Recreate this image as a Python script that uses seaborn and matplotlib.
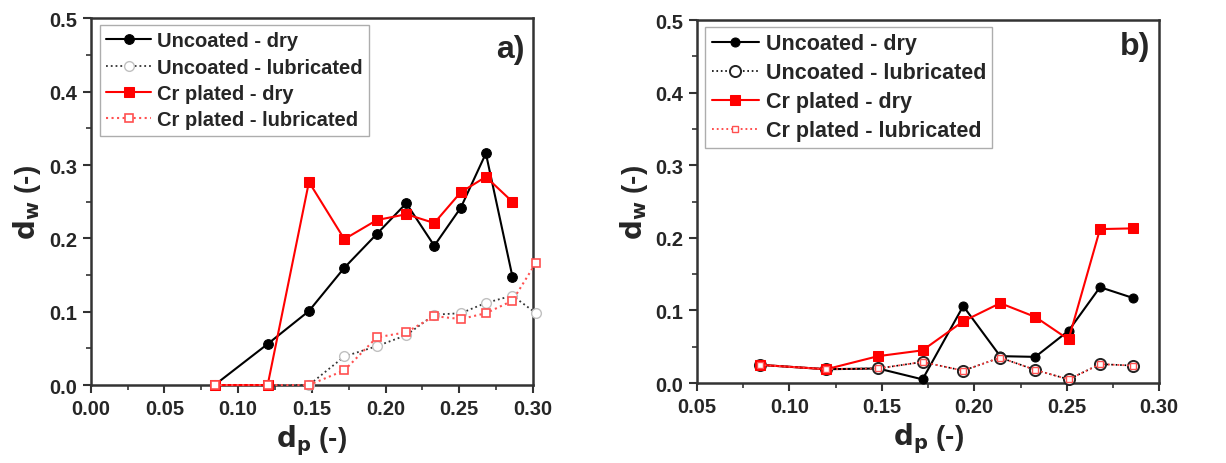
import numpy as np
import pandas as pd
import matplotlib
matplotlib.use("Agg")
import matplotlib.pyplot as plt
import seaborn as sns
from matplotlib.ticker import MultipleLocator

sns.set_theme(style="white")
plt.rcParams["font.family"] = ["Liberation Sans", "DejaVu Sans"]
plt.rcParams["font.weight"] = "bold"

# particle diameter positions (dimensionless)
dp = [0.084, 0.120, 0.148, 0.172, 0.194, 0.214, 0.233, 0.251, 0.268, 0.286, 0.302]

# panel a) wear depth
a_uncoated_dry = [0.0, 0.056, 0.101, 0.160, 0.206, 0.248, 0.190, 0.242, 0.316, 0.148]
a_uncoated_lub = [0.0, 0.0, 0.0, 0.039, 0.053, 0.068, 0.096, 0.098, 0.112, 0.122, 0.098]
a_cr_dry = [0.0, 0.0, 0.277, 0.199, 0.225, 0.233, 0.221, 0.263, 0.284, 0.250]
a_cr_lub = [0.0, 0.0, 0.0, 0.020, 0.065, 0.072, 0.094, 0.090, 0.098, 0.115, 0.167]

# panel b) wear depth
b_uncoated_dry = [0.025, 0.019, 0.020, 0.005, 0.106, 0.037, 0.036, 0.072, 0.132, 0.117]
b_uncoated_lub = [0.025, 0.019, 0.020, 0.029, 0.017, 0.035, 0.018, 0.005, 0.026, 0.024]
b_cr_dry = [0.025, 0.019, 0.037, 0.045, 0.085, 0.110, 0.091, 0.060, 0.212, 0.213]
b_cr_lub = [0.025, 0.019, 0.020, 0.029, 0.017, 0.035, 0.018, 0.005, 0.026, 0.024]

labels = ["Uncoated - dry", "Uncoated - lubricated", "Cr plated - dry", "Cr plated - lubricated"]

fig = plt.figure(figsize=(12.26, 4.64), dpi=100)
ax_a = fig.add_axes([0.074, 0.168, 0.3608, 0.790])
ax_b = fig.add_axes([0.5685, 0.1724, 0.377, 0.7823])


def series(ax, y, label, **kw):
    x = dp[:len(y)]
    sns.lineplot(x=x, y=y, ax=ax, label=label, sort=False, estimator=None,
                 clip_on=False, **kw)


# panel a
series(ax_a, a_uncoated_dry, labels[0], color="black", lw=1.5, marker="o", ms=7,
       mfc="black", mec="black")
series(ax_a, a_uncoated_lub, labels[1], color="#333333", lw=1.3, linestyle=":",
       marker="o", ms=7, mfc="white", mec="#c0c0c0", mew=1.0)
series(ax_a, a_cr_dry, labels[2], color="#ff0000", lw=1.5, marker="s", ms=6.5,
       mfc="#ff0000", mec="#ff0000")
series(ax_a, a_cr_lub, labels[3], color="#ff5050", lw=1.5, linestyle=":",
       marker="s", ms=6, mfc="white", mec="#ff5050", mew=1.2)

# panel b
series(ax_b, b_uncoated_dry, labels[0], color="black", lw=1.5, marker="o", ms=6.5,
       mfc="black", mec="black")
series(ax_b, b_uncoated_lub, labels[1], color="black", lw=1.2, linestyle=":",
       marker="o", ms=8, mfc="white", mec="#222222", mew=1.4)
series(ax_b, b_cr_dry, labels[2], color="#ff0000", lw=1.5, marker="s", ms=6.5,
       mfc="#ff0000", mec="#ff0000")
series(ax_b, b_cr_lub, labels[3], color="#ff4040", lw=1.3, linestyle=":",
       marker="s", ms=4.5, mfc="white", mec="#ff5050", mew=1.0)

panels = [
    (ax_a, 0.0, "a)", 0.917, 14.5, (0.022, 0.982)),
    (ax_b, 0.05, "b)", 0.928, 15.5, (0.018, 0.981)),
]
for ax, xmin, tag, ty, lfs, anchor in panels:
    ax.set_xlim(xmin, 0.30)
    ax.set_ylim(0.0, 0.5)
    ax.xaxis.set_major_locator(MultipleLocator(0.05))
    ax.xaxis.set_minor_locator(MultipleLocator(0.025))
    ax.yaxis.set_major_locator(MultipleLocator(0.1))
    ax.yaxis.set_minor_locator(MultipleLocator(0.05))
    ax.xaxis.set_major_formatter(plt.FormatStrFormatter("%.2f"))
    ax.yaxis.set_major_formatter(plt.FormatStrFormatter("%.1f"))
    ax.tick_params(which="major", direction="out", length=6, width=1.5,
                   color="#333333", labelsize=14.5, bottom=True, left=True,
                   top=False, right=False, pad=4)
    ax.tick_params(which="minor", direction="out", length=3.5, width=1.2,
                   color="#333333", bottom=True, left=True, top=False, right=False)
    for lab in ax.get_xticklabels() + ax.get_yticklabels():
        lab.set_fontweight("bold")
    for sp in ax.spines.values():
        sp.set_linewidth(1.8)
        sp.set_color("#333333")
        sp.set_zorder(1.5)
    ax.set_xlabel(r"$\mathbf{d_p}$ (-)", fontsize=20, fontweight="bold", labelpad=3)
    ax.set_ylabel(r"$\mathbf{d_w}$ (-)", fontsize=20, fontweight="bold", labelpad=4)
    ax.text(0.98, ty, tag, transform=ax.transAxes, ha="right", va="center",
            fontsize=23, fontweight="bold")
    leg = ax.legend(loc="upper left", bbox_to_anchor=anchor, borderaxespad=0.0,
                    fontsize=lfs, frameon=True, fancybox=False,
                    handlelength=2.2, handletextpad=0.3,
                    labelspacing=0.37, borderpad=0.3)
    leg.get_frame().set_edgecolor("#999999")
    leg.get_frame().set_linewidth(1.0)
    for t in leg.get_texts():
        t.set_fontweight("bold")

fig.savefig("out.png", dpi=100)
